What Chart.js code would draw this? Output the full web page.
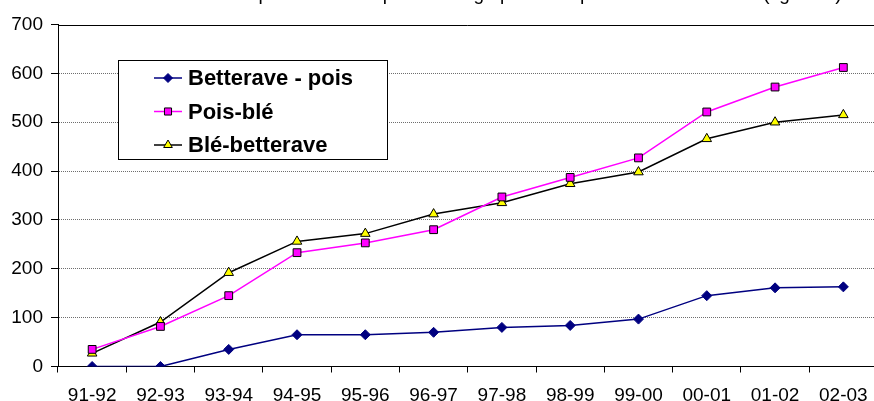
<!DOCTYPE html>
<html>
<head>
<meta charset="utf-8">
<script src="https://cdn.jsdelivr.net/npm/chart.js@4/dist/chart.umd.min.js"></script>
<style>
  html, body { margin: 0; padding: 0; background: #fff; overflow: hidden; }
  #wrap { width: 874px; height: 401px; overflow: hidden; position: relative; }
  canvas { display: block; }
</style>
</head>
<body>
<div id="wrap"><canvas id="graf" width="884" height="401"></canvas></div>
<script>
// ---- donnees ----
const campagnes = ["91-92", "92-93", "93-94", "94-95", "95-96", "96-97", "97-98", "98-99", "99-00", "00-01", "01-02", "02-03"];
const betteravePois = [0, 0, 35, 65, 65, 70, 80, 84, 97, 145, 161, 163];
const poisBle = [35, 82, 145, 233, 253, 280, 347, 387, 427, 521, 572, 612];
const bleBetterave = [27, 91, 192, 256, 272, 312, 335, 374, 398, 466, 500, 515];
const titre = "Cumul des pertes d'azote par lessivage pour chaque rotation de l'essai (kg N/ha)";

const police = "'Liberation Sans', Arial, sans-serif";

// titre coupé en haut + bordure haute + légende dans la zone du graphique
const habillage = {
  id: "habillage",
  afterDraw(chart) {
    const ctx = chart.ctx;
    const ca = chart.chartArea;
    ctx.save();
    // bordure haute
    ctx.strokeStyle = "#000";
    ctx.lineWidth = 1;
    ctx.beginPath();
    ctx.moveTo(ca.left, Math.round(ca.top) + 0.5);
    ctx.lineTo(ca.right, Math.round(ca.top) + 0.5);
    ctx.stroke();

    // titre (coupé par le bord du cadre, comme l'original)
    ctx.fillStyle = "#000";
    ctx.font = "19px " + police;
    ctx.textAlign = "center";
    ctx.textBaseline = "alphabetic";
    ctx.fillText(titre, 502, 0);

    // légende
    const bx = 118.5, by = 60.5, bw = 269, bh = 99;
    ctx.fillStyle = "#fff";
    ctx.fillRect(bx, by, bw, bh);
    ctx.strokeStyle = "#000";
    ctx.strokeRect(bx, by, bw, bh);
    ctx.font = "bold 22px " + police;
    ctx.textAlign = "left";
    ctx.textBaseline = "middle";
    chart.data.datasets.forEach((ds, i) => {
      const y = 78 + i * 33.5;
      ctx.strokeStyle = ds.borderColor;
      ctx.lineWidth = ds.borderWidth;
      ctx.beginPath();
      ctx.moveTo(154, y);
      ctx.lineTo(182, y);
      ctx.stroke();
      ctx.fillStyle = ds.pointBackgroundColor;
      ctx.strokeStyle = ds.pointBorderColor;
      ctx.lineWidth = ds.pointBorderWidth;
      Chart.helpers.drawPoint(ctx, {
        pointStyle: ds.pointStyle,
        radius: ds.pointRadius - 0.5,
        rotation: 0,
        borderWidth: ds.pointBorderWidth,
      }, 168, y);
      ctx.fillStyle = "#000";
      ctx.fillText(ds.label, 188, y + 1);
    });
    ctx.restore();
  },
};

new Chart(document.getElementById("graf"), {
  type: "line",
  data: {
    labels: campagnes,
    datasets: [
      {
        label: "Betterave - pois",
        data: betteravePois,
        borderColor: "#000080",
        borderWidth: 1.5,
        pointStyle: "rectRot",
        pointRadius: 5,
        pointBackgroundColor: "#000080",
        pointBorderColor: "#000080",
        pointBorderWidth: 1,
        tension: 0,
      },
      {
        label: "Pois-blé",
        data: poisBle,
        borderColor: "#ff00ff",
        borderWidth: 1.5,
        pointStyle: "rect",
        pointRadius: 5.5,
        pointBackgroundColor: "#ff00ff",
        pointBorderColor: "#000",
        pointBorderWidth: 1,
        tension: 0,
      },
      {
        label: "Blé-betterave",
        data: bleBetterave,
        borderColor: "#000",
        borderWidth: 1.5,
        pointStyle: "triangle",
        pointRadius: 5.5,
        pointBackgroundColor: "#ffff00",
        pointBorderColor: "#000",
        pointBorderWidth: 1,
        tension: 0,
      },
    ],
  },
  options: {
    responsive: false,
    animation: false,
    layout: { padding: { top: 24.5, right: 2, left: 0, bottom: 0 } },
    plugins: {
      legend: { display: false },
      tooltip: { enabled: false },
      title: { display: false },
    },
    scales: {
      x: {
        offset: true,
        afterFit: (s) => { s.height = 34.5; },
        grid: {
          offset: true,
          drawOnChartArea: false,
          drawTicks: true,
          tickLength: 6,
          tickColor: "#000",
        },
        border: { color: "#000", width: 1 },
        ticks: {
          color: "#000",
          font: { family: police, size: 19 },
          padding: 12,
          maxRotation: 0,
          autoSkip: false,
        },
      },
      y: {
        min: 0,
        max: 700,
        afterFit: (s) => { s.width = 58; },
        grid: {
          color: (c) => (c.tick && (c.tick.value === 0 || c.tick.value === 700) ? "rgba(0,0,0,0)" : "#6e6e6e"),
          lineWidth: 1,
          tickColor: "#000",
          tickLength: 7,
          tickBorderDash: [],
        },
        border: { color: "#000", width: 1, dash: [1, 1] },
        ticks: {
          stepSize: 100,
          color: "#000",
          font: { family: police, size: 19 },
          padding: 8,
        },
      },
    },
  },
  plugins: [habillage],
});
</script>
</body>
</html>
